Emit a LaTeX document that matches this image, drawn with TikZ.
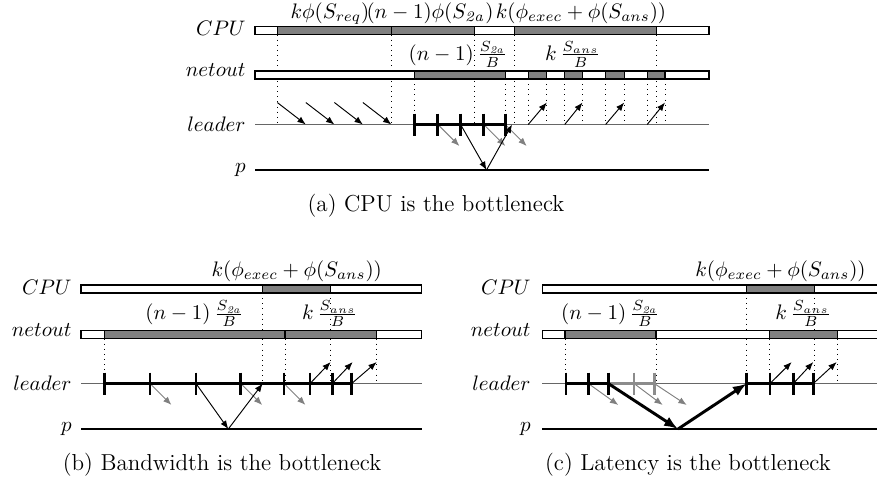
\documentclass[tikz,border=0pt]{standalone}
\usetikzlibrary{arrows.meta}
\begin{document}
\begin{tikzpicture}[x=0.47619pt,y=-0.47619pt,
  lbl/.style={anchor=east,inner sep=0pt},
  ann/.style={anchor=base,inner sep=0pt},
  captext/.style={anchor=base,inner sep=0pt,font=\fontsize{11}{13}\selectfont},
  bar/.style={draw=black,line width=0.55pt,fill=white},
  busy/.style={draw=black,line width=0.55pt,fill=black!50},
  guide/.style={dotted,line width=0.45pt},
  leaderline/.style={draw=black!60,line width=0.75pt},
  pline/.style={draw=black,line width=0.55pt},
  msg/.style={-{Latex[length=4pt,width=3.1pt]},line width=0.45pt},
  ghost/.style={msg,color=black!50},
  bigmsg/.style={-{Latex[length=6.6pt,width=5pt]},line width=1.4pt},
  batch/.style={line width=1.4pt},
  ghostbatch/.style={line width=1.4pt,draw=black!45},
  tickmark/.style={line width=1.4pt},
  ghosttick/.style={line width=1.4pt,draw=black!45}
]
\useasboundingbox (0,0) rectangle (877,486);

%================ (a) =================
\foreach \x in {277.3,391.4,474.3,514.5,656.5} \draw[guide] (\x,34.5) -- (\x,124.5);
\foreach \x in {414.1,505.2,528.2,546.8,564.7,582.5,605.6,624.2,647.2,665.0} \draw[guide] (\x,79) -- (\x,124.5);
\draw[bar] (255,26.5) rectangle (709,34.5);
\draw[busy] (277.3,26.5) rectangle (391.4,34.5);
\draw[busy] (391.4,26.5) rectangle (474.3,34.5);
\draw[busy] (514.5,26.5) rectangle (656.5,34.5);
\draw[bar] (255,71) rectangle (709,79);
\foreach \a/\b in {414.1/505.2,528.2/546.8,564.7/582.5,605.6/624.2,647.2/665.0}
  \draw[busy] (\a,71) rectangle (\b,79);
\node[lbl] (aCPU) at (246,28.5) {$CPU$};
\node[lbl] (aNet) at (246,70.5) {$netout$};
\node[lbl] (aLead) at (246,124.5) {$leader$};
\node[lbl] (aP) at (246,170) {$p$};
\node[ann] (aA1) at (330,18) {$k\phi(S_{req})$};
\node[ann] (aA2) at (430,18) {$(n-1)\phi(S_{\mathit{2a}})$};
\node[ann] (aA3) at (581,18) {$k(\phi_{exec}+\phi(S_{ans}))$};
\node[ann] (aA4) at (458,60) {$(n-1)\,\frac{S_{\mathit{2a}}}{B}$};
\node[ann] (aA5) at (573,60) {$k\,\frac{S_{ans}}{B}$};
\coordinate (aL0) at (255,124.5); \coordinate (aL1) at (709,124.5);
\coordinate (aP0) at (255,170); \coordinate (aP1) at (709,170);
\draw[leaderline] (aL0) -- (aL1);
\draw[pline] (aP0) -- (aP1);
\coordinate (aR0) at (277.3,124.5); \coordinate (aR1) at (305.8,124.5);
\coordinate (aR2) at (334.4,124.5); \coordinate (aR3) at (362.9,124.5);
\coordinate (aR4) at (391.4,124.5);
\coordinate (aT0) at (277.3,102.5); \coordinate (aT1) at (305.8,102.5);
\coordinate (aT2) at (334.4,102.5); \coordinate (aT3) at (362.9,102.5);
\draw[msg] (aT0) -- (aR1);
\draw[msg] (aT1) -- (aR2);
\draw[msg] (aT2) -- (aR3);
\draw[msg] (aT3) -- (aR4);
\coordinate (aB0) at (414.1,124.5); \coordinate (aB1) at (437.9,124.5);
\coordinate (aB2) at (460.6,124.5); \coordinate (aB3) at (483.8,124.5);
\coordinate (aB4) at (505.2,124.5);
\coordinate (aG1) at (459.4,146); \coordinate (aG2) at (505.3,146); \coordinate (aG3) at (526.7,146);
\draw[ghost] (aB1) -- (aG1);
\draw[ghost] (aB3) -- (aG2);
\draw[ghost] (aB4) -- (aG3);
\draw[batch] (aB0) -- (aB4);
\foreach \x in {414.1,437.9,460.6,483.8,505.2} \draw[tickmark] (\x,113.5) -- (\x,135.5);
\coordinate (aPm) at (486.5,170); \coordinate (aBack) at (512,124.5);
\draw[msg] (aB2) -- (aPm);
\draw[msg] (aPm) -- (aBack);
\coordinate (aS0) at (528.2,124.5); \coordinate (aE0) at (546.8,102.5);
\coordinate (aS1) at (564.7,124.5); \coordinate (aE1) at (582.5,102.5);
\coordinate (aS2) at (605.6,124.5); \coordinate (aE2) at (624.2,102.5);
\coordinate (aS3) at (647.2,124.5); \coordinate (aE3) at (665.0,102.5);
\draw[msg] (aS0) -- (aE0);
\draw[msg] (aS1) -- (aE1);
\draw[msg] (aS2) -- (aE2);
\draw[msg] (aS3) -- (aE3);
\node[captext] (capA) at (436,211) {(a) CPU is the bottleneck};

%================ (b) =================
\foreach \x in {262.7,330.7} \draw[guide] (\x,293) -- (\x,383.5);
\foreach \x in {104.3,285,376.7} \draw[guide] (\x,338.5) -- (\x,383.5);
\draw[bar] (81,285) rectangle (421.7,293);
\draw[busy] (262.7,285) rectangle (330.7,293);
\draw[bar] (81,330.5) rectangle (421.7,338.5);
\draw[busy] (104.3,330.5) rectangle (285,338.5);
\draw[busy] (285,330.5) rectangle (376.7,338.5);
\node[lbl] (bCPU) at (72,287) {$CPU$};
\node[lbl] (bNet) at (72,330) {$netout$};
\node[lbl] (bLead) at (72,383.5) {$leader$};
\node[lbl] (bP) at (72,429) {$p$};
\node[ann] (bA1) at (296.7,276.5) {$k(\phi_{exec}+\phi(S_{ans}))$};
\node[ann] (bA2) at (194.7,319.5) {$(n-1)\,\frac{S_{\mathit{2a}}}{B}$};
\node[ann] (bA3) at (330,319.5) {$k\,\frac{S_{ans}}{B}$};
\coordinate (bL0) at (81,383.5); \coordinate (bL1) at (421.7,383.5);
\coordinate (bP0) at (81,429); \coordinate (bP1) at (421.7,429);
\draw[leaderline] (bL0) -- (bL1);
\draw[pline] (bP0) -- (bP1);
\coordinate (bB0) at (104.3,383.5); \coordinate (bB1) at (150,383.5);
\coordinate (bB2) at (196,383.5); \coordinate (bB3) at (240.7,383.5);
\coordinate (bB4) at (284,383.5); \coordinate (bB5) at (310,383.5);
\coordinate (bB6) at (332.3,383.5); \coordinate (bB7) at (351.7,383.5);
\coordinate (bG1) at (171.5,405); \coordinate (bG2) at (262.2,405); \coordinate (bG3) at (305.5,405);
\draw[ghost] (bB1) -- (bG1);
\draw[ghost] (bB3) -- (bG2);
\draw[ghost] (bB4) -- (bG3);
\draw[batch] (bB0) -- (bB7);
\foreach \x in {104.3,150,196,240.7,284,310,332.3,351.7} \draw[tickmark] (\x,372.5) -- (\x,394.5);
\coordinate (bPm) at (228.3,429); \coordinate (bBack) at (262.7,383.5);
\draw[msg] (bB2) -- (bPm);
\draw[msg] (bPm) -- (bBack);
\coordinate (bE0) at (330.7,362); \coordinate (bE1) at (352.7,362); \coordinate (bE2) at (376.7,362);
\draw[msg] (bB5) -- (bE0);
\draw[msg] (bB6) -- (bE1);
\draw[msg] (bB7) -- (bE2);
\node[captext] (capB) at (222,470) {(b) Bandwidth is the bottleneck};

%================ (c) =================
\foreach \x in {746.7,814.3} \draw[guide] (\x,293) -- (\x,383.5);
\foreach \x in {565,656,769.3,837.3} \draw[guide] (\x,338.5) -- (\x,383.5);
\draw[bar] (542.3,285) rectangle (885,293);
\draw[busy] (746.7,285) rectangle (814.3,293);
\draw[bar] (542.3,330.5) rectangle (885,338.5);
\draw[busy] (565,330.5) rectangle (656,338.5);
\draw[busy] (769.3,330.5) rectangle (837.3,338.5);
\node[lbl] (cCPU) at (531,287) {$CPU$};
\node[lbl] (cNet) at (531,330) {$netout$};
\node[lbl] (cLead) at (531,383.5) {$leader$};
\node[lbl] (cP) at (531,429) {$p$};
\node[ann] (cA1) at (780.5,276.5) {$k(\phi_{exec}+\phi(S_{ans}))$};
\node[ann] (cA2) at (610.5,319.5) {$(n-1)\,\frac{S_{\mathit{2a}}}{B}$};
\node[ann] (cA3) at (803.3,319.5) {$k\,\frac{S_{ans}}{B}$};
\coordinate (cL0) at (542.3,383.5); \coordinate (cL1) at (885,383.5);
\coordinate (cP0) at (542.3,429); \coordinate (cP1) at (885,429);
\draw[leaderline] (cL0) -- (cL1);
\draw[pline] (cP0) -- (cP1);
\coordinate (cB0) at (566,383.5); \coordinate (cB1) at (588.3,383.5);
\coordinate (cB2) at (608.3,383.5); \coordinate (cB3) at (634,383.5);
\coordinate (cB4) at (654.3,383.5);
\coordinate (cD0) at (746.7,383.5); \coordinate (cD1) at (770,383.5);
\coordinate (cD2) at (793.3,383.5); \coordinate (cD3) at (813.3,383.5);
\coordinate (cG1) at (618.3,405); \coordinate (cG2) at (662.7,405); \coordinate (cG3) at (686.7,405);
\draw[ghost] (cB1) -- (cG1);
\draw[ghost] (cB3) -- (cG2);
\draw[ghost] (cB4) -- (cG3);
\draw[ghostbatch] (cB2) -- (cB4);
\foreach \x in {634,654.3} \draw[ghosttick] (\x,372.5) -- (\x,394.5);
\draw[batch] (cB0) -- (cB2);
\foreach \x in {566,588.3,608.3} \draw[tickmark] (\x,372.5) -- (\x,394.5);
\draw[batch] (cD0) -- (cD3);
\foreach \x in {746.7,770,793.3,813.3} \draw[tickmark] (\x,372.5) -- (\x,394.5);
\coordinate (cPm) at (678,429);
\draw[bigmsg] (cB2) -- (cPm);
\draw[bigmsg] (cPm) -- (cD0);
\coordinate (cE0) at (791.7,362); \coordinate (cE1) at (813.3,362); \coordinate (cE2) at (836.7,362);
\draw[msg] (cD1) -- (cE0);
\draw[msg] (cD2) -- (cE1);
\draw[msg] (cD3) -- (cE2);
\node[captext] (capC) at (688,470) {(c) Latency is the bottleneck};
\end{tikzpicture}
\end{document}
